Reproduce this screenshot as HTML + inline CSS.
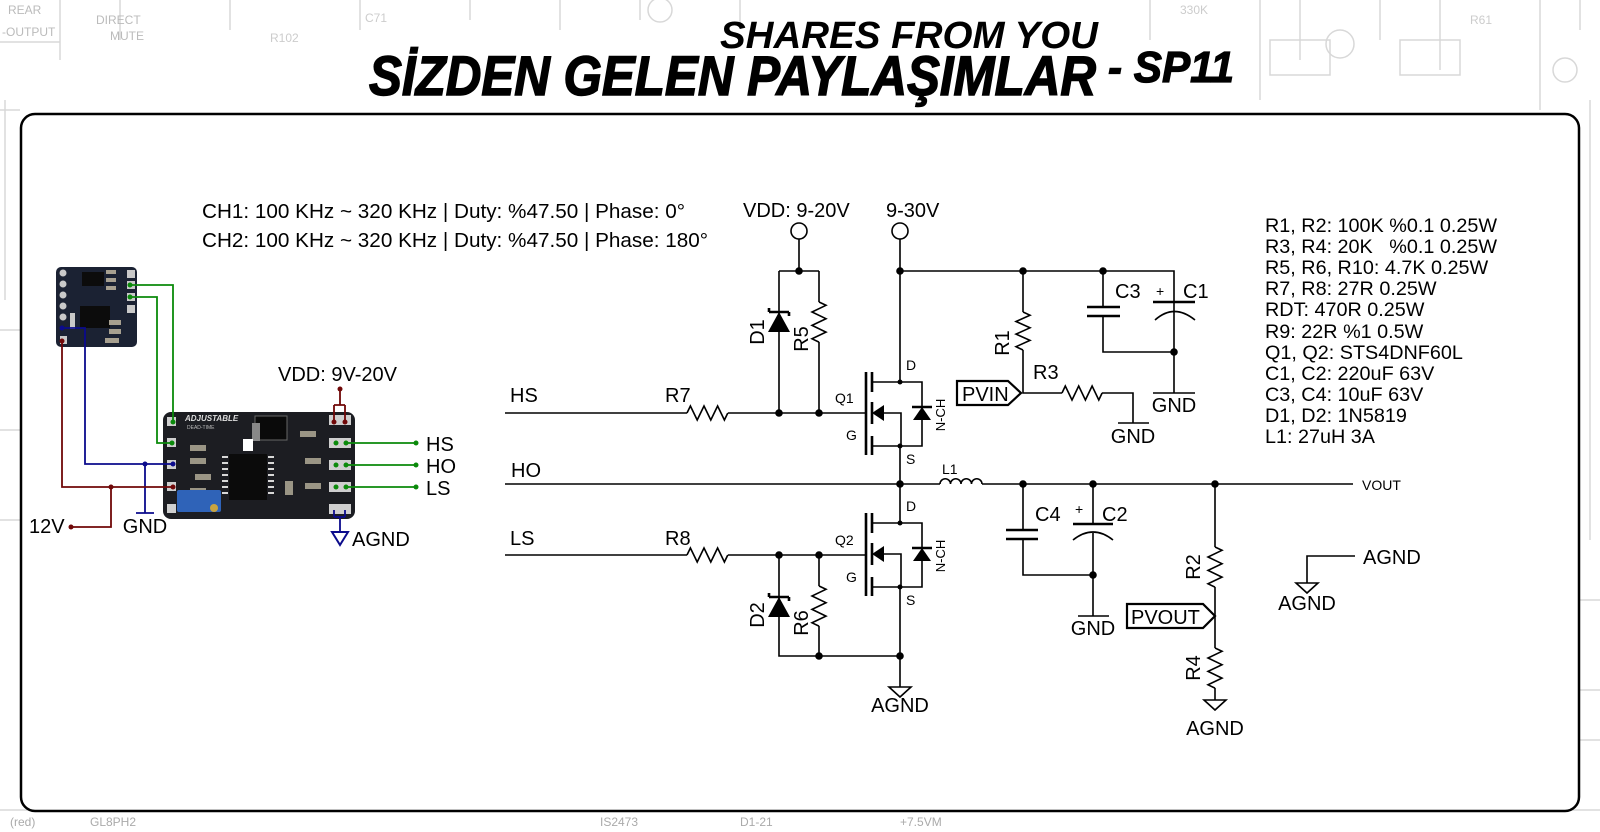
<!DOCTYPE html>
<html><head><meta charset="utf-8"><style>
html,body{margin:0;padding:0;background:#fff;}
svg{display:block;}
text{font-family:"Liberation Sans",Arial,sans-serif;fill:#000;}
</style></head><body>
<svg width="1600" height="832" viewBox="0 0 1600 832" xmlns="http://www.w3.org/2000/svg">
<g stroke="#d8d8d8" stroke-width="1.5" fill="none">
<path d="M0 42 H60 M0 110 H20 M5 100 V300 M60 0 V60 M120 0 V40 M230 0 V30 M360 0 V30 M470 0 V20 M560 0 V30 M640 0 V20 M740 0 V25 M1150 0 V40 M1260 0 V100 M1300 0 V60 M1380 0 V40 M1440 0 V70 M1540 0 V110 M1580 0 V30 M1590 100 V540 M0 330 H20 M0 430 H20 M0 520 H20 M1580 600 H1600 M1580 690 H1600 M1580 740 H1600 M0 810 H1600"/>
<rect x="1270" y="40" width="60" height="35"/><rect x="1400" y="40" width="60" height="35"/>
<circle cx="1340" cy="44" r="14"/><circle cx="1565" cy="70" r="12"/><circle cx="660" cy="10" r="12"/>
</g>
<g font-size="12">
<text x="8" y="14" style="fill:#bbb">REAR</text><text x="2" y="36" style="fill:#bbb">-OUTPUT</text><text x="96" y="24" style="fill:#bbb">DIRECT</text><text x="110" y="40" style="fill:#bbb">MUTE</text>
<text x="270" y="42" style="fill:#ccc">R102</text><text x="365" y="22" style="fill:#ccc">C71</text><text x="1470" y="24" style="fill:#ccc">R61</text><text x="1180" y="14" style="fill:#ccc">330K</text>
<text x="10" y="826" style="fill:#aaa">(red)</text><text x="90" y="826" style="fill:#aaa">GL8PH2</text><text x="600" y="826" style="fill:#aaa">IS2473</text><text x="740" y="826" style="fill:#aaa">D1-21</text><text x="900" y="826" style="fill:#aaa">+7.5VM</text>
</g>

<text x="720" y="48" font-size="38" font-weight="bold" font-style="italic" textLength="378" lengthAdjust="spacingAndGlyphs">SHARES FROM YOU</text>
<text x="369" y="95" font-size="56" font-weight="bold" font-style="italic" textLength="727" lengthAdjust="spacingAndGlyphs" stroke="#000" stroke-width="1.5">SİZDEN GELEN PAYLAŞIMLAR</text>
<text x="1108" y="82" font-size="44" font-weight="bold" font-style="italic" textLength="126" lengthAdjust="spacingAndGlyphs" stroke="#000" stroke-width="1.2">- SP11</text>

<rect x="21" y="114" width="1558" height="697" rx="14" fill="#fff" stroke="#000" stroke-width="2.5"/>

<text x="202" y="218" font-size="20.7">CH1: 100 KHz ~ 320 KHz | Duty: %47.50 | Phase: 0°</text>
<text x="202" y="247" font-size="20.7">CH2: 100 KHz ~ 320 KHz | Duty: %47.50 | Phase: 180°</text>

<g font-size="19.8">
<text x="1265" y="232">R1, R2: 100K %0.1 0.25W</text>
<text x="1265" y="253">R3, R4: 20K &#160; %0.1 0.25W</text>
<text x="1265" y="274">R5, R6, R10: 4.7K 0.25W</text>
<text x="1265" y="295">R7, R8: 27R 0.25W</text>
<text x="1265" y="316">RDT: 470R 0.25W</text>
<text x="1265" y="338">R9: 22R %1 0.5W</text>
<text x="1265" y="359">Q1, Q2: STS4DNF60L</text>
<text x="1265" y="380">C1, C2: 220uF 63V</text>
<text x="1265" y="401">C3, C4: 10uF 63V</text>
<text x="1265" y="422">D1, D2: 1N5819</text>
<text x="1265" y="443">L1: 27uH 3A</text>
</g>

<g stroke="#000" stroke-width="1.6" fill="none">
<circle cx="799" cy="231" r="8"/>
<circle cx="900" cy="231" r="8"/>
<path d="M799 239 V271 M779 271 H819 M779 271 V413 M819 271 V302 M819 342 V413"/>
<path d="M819 302 l7 3.3 l-14 6.7 l14 6.7 l-14 6.7 l14 6.7 l-14 6.7 l7 3.3"/>
<path d="M505 413 H687 M728 413 H866"/>
<path d="M687 413 l3.4 -7 l6.8 14 l6.8 -14 l6.8 14 l6.8 -14 l6.8 14 l3.4 -7"/>
<path d="M505 555 H687 M728 555 H866"/>
<path d="M687 555 l3.4 -7 l6.8 14 l6.8 -14 l6.8 14 l6.8 -14 l6.8 14 l3.4 -7"/>
<path d="M779 555 V656 H900 M819 555 V586 M819 626 V656"/>
<path d="M819 586 l7 3.3 l-14 6.7 l14 6.7 l-14 6.7 l14 6.7 l-14 6.7 l7 3.3"/>
<path d="M505 484 H940 M982 484 H1353"/>
<path d="M940 484 a5.25 5.25 0 0 1 10.5 0 a5.25 5.25 0 0 1 10.5 0 a5.25 5.25 0 0 1 10.5 0 a5.25 5.25 0 0 1 10.5 0"/>
<path d="M900 239 V382 M900 271 H1174 V302 M900 446 V523 M900 587 V687"/>
<path d="M1023 271 V312 M1023 350 V393 H1062 M1102 393 H1133 V423 M1118 423 H1149"/>
<path d="M1023 312 l7 3.2 l-14 6.3 l14 6.3 l-14 6.3 l14 6.3 l-14 6.3 l7 3.3"/>
<path d="M1062 393 l3.3 -7 l6.7 14 l6.7 -14 l6.7 14 l6.7 -14 l6.7 14 l3.3 -7"/>
<path d="M1103 271 V307 M1103 316 V352 H1174 M1174 302 V393 M1153 393 H1195"/>
<path d="M1155 320 Q1174 303 1195 320"/>
<path d="M1023 484 V530 M1023 539 V575 H1093 M1093 484 V524 M1093 533 V616 M1078 616 H1109"/>
<path d="M1073 540 Q1093 524 1113 540"/>
<path d="M1215 484 V547 M1215 587 V648 M1215 688 V700"/>
<path d="M1215 547 l7 3.3 l-14 6.7 l14 6.7 l-14 6.7 l14 6.7 l-14 6.7 l7 3.3"/>
<path d="M1215 648 l7 3.3 l-14 6.7 l14 6.7 l-14 6.7 l14 6.7 l-14 6.7 l7 3.3"/>
<path d="M1355 556 H1307 V583"/>
<path d="M872 382 H922 V446 H872 M883 413 H901 V446"/>
<path d="M872 523 H922 V587 H872 M883 554 H901 V587"/>
</g>
<g stroke="#000" stroke-width="2.6" fill="none">
<path d="M866 372 V455 M872 372 V392 M872 402 V424 M872 436 V455"/>
<path d="M866 513 V596 M872 513 V533 M872 543 V565 M872 577 V596"/>
<path d="M1087 307 H1120 M1087 316 H1120 M1153 302 H1195"/>
<path d="M1006 530 H1038 M1006 539 H1038 M1073 524 H1113"/>
<path d="M912 407 H932 M912 548 H932"/>
<path d="M769 312 H789 M769 312 v-4 M789 312 v4 M769 597 H789 M769 597 v-4 M789 597 v4"/>
</g>
<g fill="#000">
<polygon points="872,413 884,405 884,421"/>
<polygon points="872,554 884,546 884,562"/>
<polygon points="922,407 913,420 931,420"/>
<polygon points="922,548 913,561 931,561"/>
<polygon points="779,312 768,332 790,332"/>
<polygon points="779,597 768,617 790,617"/>
<circle cx="799" cy="271" r="3.8"/><circle cx="900" cy="271" r="3.8"/><circle cx="1023" cy="271" r="3.8"/><circle cx="1103" cy="271" r="3.8"/><circle cx="1174" cy="352" r="3.8"/>
<circle cx="779" cy="413" r="3.8"/><circle cx="819" cy="413" r="3.8"/><circle cx="779" cy="555" r="3.8"/><circle cx="819" cy="555" r="3.8"/>
<circle cx="819" cy="656" r="3.8"/><circle cx="900" cy="656" r="3.8"/>
<circle cx="900" cy="484" r="3.8"/><circle cx="1023" cy="484" r="3.8"/><circle cx="1093" cy="484" r="3.8"/><circle cx="1093" cy="575" r="3.8"/><circle cx="1215" cy="484" r="3.8"/>
<circle cx="900" cy="382" r="2.5"/><circle cx="900" cy="446" r="2.5"/><circle cx="900" cy="523" r="2.5"/><circle cx="900" cy="587" r="2.5"/>
</g>
<g stroke="#000" stroke-width="1.6" fill="#fff">
<polygon points="889,687 911,687 900,697"/>
<polygon points="1204,700 1226,700 1215,710"/>
<polygon points="1296,583 1318,583 1307,593"/>
</g>
<g stroke="#000" stroke-width="2.2" fill="#fff">
<polygon points="957,381 1008,381 1021,393 1008,405 957,405"/>
<polygon points="1127,604 1203,604 1215,616 1203,628 1127,628"/>
</g>
<text x="962" y="401" font-size="20">PVIN</text>
<text x="1131" y="624" font-size="20">PVOUT</text>

<g font-size="20">
<text x="743" y="217">VDD: 9-20V</text>
<text x="886" y="217">9-30V</text>
<text x="510" y="402">HS</text>
<text x="511" y="477">HO</text>
<text x="510" y="545">LS</text>
<text x="665" y="402">R7</text>
<text x="665" y="545">R8</text>
<text x="1033" y="379">R3</text>
<text x="1115" y="298">C3</text>
<text x="1183" y="298">C1</text>
<text x="1035" y="521">C4</text>
<text x="1102" y="521">C2</text>
<text x="1133" y="443" text-anchor="middle">GND</text>
<text x="1174" y="412" text-anchor="middle">GND</text>
<text x="1093" y="635" text-anchor="middle">GND</text>
<text x="900" y="712" text-anchor="middle">AGND</text>
<text x="1215" y="735" text-anchor="middle">AGND</text>
<text x="1307" y="610" text-anchor="middle">AGND</text>
<text x="1363" y="564">AGND</text>
<text transform="translate(764,332) rotate(-90)" text-anchor="middle">D1</text>
<text transform="translate(808,339) rotate(-90)" text-anchor="middle">R5</text>
<text transform="translate(764,615) rotate(-90)" text-anchor="middle">D2</text>
<text transform="translate(808,623) rotate(-90)" text-anchor="middle">R6</text>
<text transform="translate(1009,343) rotate(-90)" text-anchor="middle">R1</text>
<text transform="translate(1200,567) rotate(-90)" text-anchor="middle">R2</text>
<text transform="translate(1200,668) rotate(-90)" text-anchor="middle">R4</text>
</g>
<g font-size="14">
<text x="906" y="370">D</text><text x="906" y="464">S</text>
<text x="906" y="511">D</text><text x="906" y="605">S</text>
<text x="835" y="403">Q1</text><text x="846" y="440">G</text>
<text x="835" y="545">Q2</text><text x="846" y="582">G</text>
<text x="942" y="474">L1</text>
<text x="1362" y="490">VOUT</text>
<text x="1156" y="296">+</text><text x="1075" y="514">+</text>
<text transform="translate(945,415) rotate(-90)" text-anchor="middle" font-size="13">N-CH</text>
<text transform="translate(945,556) rotate(-90)" text-anchor="middle" font-size="13">N-CH</text>
</g>

<rect x="56" y="267" width="81" height="80" rx="5" fill="#1b2233"/>
<g fill="#c9c9c9"><circle cx="63" cy="273" r="3.5"/><circle cx="63" cy="284" r="3.5"/><circle cx="63" cy="295" r="3.5"/><circle cx="63" cy="306" r="3.5"/><circle cx="63" cy="317" r="3.5"/>
<rect x="127" y="270" width="8" height="8"/><rect x="127" y="281" width="8" height="8"/><rect x="127" y="293" width="8" height="8"/><rect x="127" y="305" width="8" height="8"/>
<rect x="60" y="336" width="7" height="8"/><rect x="70" y="313" width="5" height="16"/></g>
<g fill="#0c0c0c"><rect x="82" y="272" width="22" height="14"/><rect x="80" y="306" width="30" height="22"/></g>
<g fill="#a7a090"><rect x="106" y="270" width="10" height="4"/><rect x="106" y="278" width="10" height="4"/><rect x="106" y="286" width="10" height="4"/><rect x="109" y="320" width="12" height="5"/><rect x="109" y="329" width="12" height="5"/><rect x="105" y="338" width="14" height="5"/></g>

<rect x="163" y="412" width="192" height="107" rx="8" fill="#1c1d22"/>
<g fill="#cfcfcf"><rect x="167" y="417" width="9" height="9"/><rect x="167" y="438" width="9" height="9"/><rect x="167" y="460" width="9" height="9"/><rect x="167" y="482" width="9" height="9"/><rect x="167" y="504" width="9" height="9"/>
<rect x="329" y="415" width="22" height="10"/><rect x="329" y="438" width="22" height="10"/><rect x="329" y="460" width="22" height="10"/><rect x="329" y="482" width="22" height="10"/><rect x="329" y="504" width="22" height="10"/></g>
<text x="185" y="421" font-size="8" font-weight="bold" font-style="italic" style="fill:#ddd">ADJUSTABLE</text>
<text x="187" y="429" font-size="5" style="fill:#bbb">DEAD-TIME</text>
<rect x="255" y="416" width="32" height="24" fill="#0a0a0a" stroke="#666"/>
<rect x="252" y="423" width="8" height="18" fill="#888"/>
<rect x="229" y="454" width="38" height="46" fill="#0b0b0b"/>
<g fill="#d8d8d8"><rect x="222" y="456" width="6" height="2"/><rect x="222" y="462" width="6" height="2"/><rect x="222" y="468" width="6" height="2"/><rect x="222" y="474" width="6" height="2"/><rect x="222" y="480" width="6" height="2"/><rect x="222" y="486" width="6" height="2"/><rect x="222" y="492" width="6" height="2"/>
<rect x="268" y="456" width="6" height="2"/><rect x="268" y="462" width="6" height="2"/><rect x="268" y="468" width="6" height="2"/><rect x="268" y="474" width="6" height="2"/><rect x="268" y="480" width="6" height="2"/><rect x="268" y="486" width="6" height="2"/><rect x="268" y="492" width="6" height="2"/></g>
<rect x="243" y="439" width="10" height="12" fill="#fff"/>
<g fill="#9a9585"><rect x="190" y="445" width="16" height="6"/><rect x="190" y="458" width="16" height="6"/><rect x="195" y="474" width="16" height="6"/><rect x="190" y="488" width="16" height="6"/><rect x="305" y="458" width="16" height="6"/><rect x="305" y="483" width="16" height="6"/><rect x="300" y="431" width="16" height="6"/><rect x="285" y="481" width="8" height="14"/></g>
<rect x="177" y="490" width="44" height="22" rx="2" fill="#2f63b8"/>
<circle cx="214" cy="508" r="4" fill="#c9a440"/>

<g fill="none" stroke-width="1.8">
<path stroke="#0b8a0b" d="M130 285 H173 V422 M130 297 H157 V443 H172 M345 443 H416 M345 465 H416 M345 487 H416"/>
<path stroke="#0b0b8c" d="M62 328 H85 V464 H173 M145 464 V513 M136 513 H154 M334 510 V517 M345 510 V517 M334 517 H345 M340 517 V532"/>
<path stroke="#700808" d="M62 341 V487 H173 M111 487 V527 H71 M340 389 V405 M334 405 H345 M334 405 V422 M345 405 V422"/>
</g>
<polygon points="332,532 348,532 340,545" fill="#fff" stroke="#0b0b8c" stroke-width="2"/>
<g><circle cx="130" cy="285" r="2.5" fill="#0b8a0b"/><circle cx="130" cy="297" r="2.5" fill="#0b8a0b"/><circle cx="173" cy="422" r="2.5" fill="#0b8a0b"/><circle cx="172" cy="443" r="2.5" fill="#0b8a0b"/>
<circle cx="416" cy="443" r="2.5" fill="#0b8a0b"/><circle cx="416" cy="465" r="2.5" fill="#0b8a0b"/><circle cx="416" cy="487" r="2.5" fill="#0b8a0b"/>
<circle cx="336" cy="443" r="2.5" fill="#0b8a0b"/><circle cx="346" cy="443" r="2.5" fill="#0b8a0b"/><circle cx="336" cy="465" r="2.5" fill="#0b8a0b"/><circle cx="346" cy="465" r="2.5" fill="#0b8a0b"/><circle cx="336" cy="487" r="2.5" fill="#0b8a0b"/><circle cx="346" cy="487" r="2.5" fill="#0b8a0b"/>
<circle cx="62" cy="328" r="2.5" fill="#0b0b8c"/><circle cx="145" cy="464" r="2.5" fill="#0b0b8c"/><circle cx="173" cy="464" r="2.5" fill="#0b0b8c"/>
<circle cx="62" cy="341" r="2.5" fill="#700808"/><circle cx="111" cy="487" r="2.5" fill="#700808"/><circle cx="173" cy="487" r="2.5" fill="#700808"/><circle cx="71" cy="527" r="2.5" fill="#700808"/><circle cx="340" cy="389" r="2.5" fill="#700808"/><circle cx="334" cy="422" r="2.5" fill="#700808"/><circle cx="345" cy="422" r="2.5" fill="#700808"/></g>
<g font-size="20">
<text x="278" y="381">VDD: 9V-20V</text>
<text x="426" y="451">HS</text><text x="426" y="473">HO</text><text x="426" y="495">LS</text>
<text x="352" y="546">AGND</text>
<text x="145" y="533" text-anchor="middle">GND</text>
<text x="29" y="533">12V</text>
</g>
</svg>
</body></html>
